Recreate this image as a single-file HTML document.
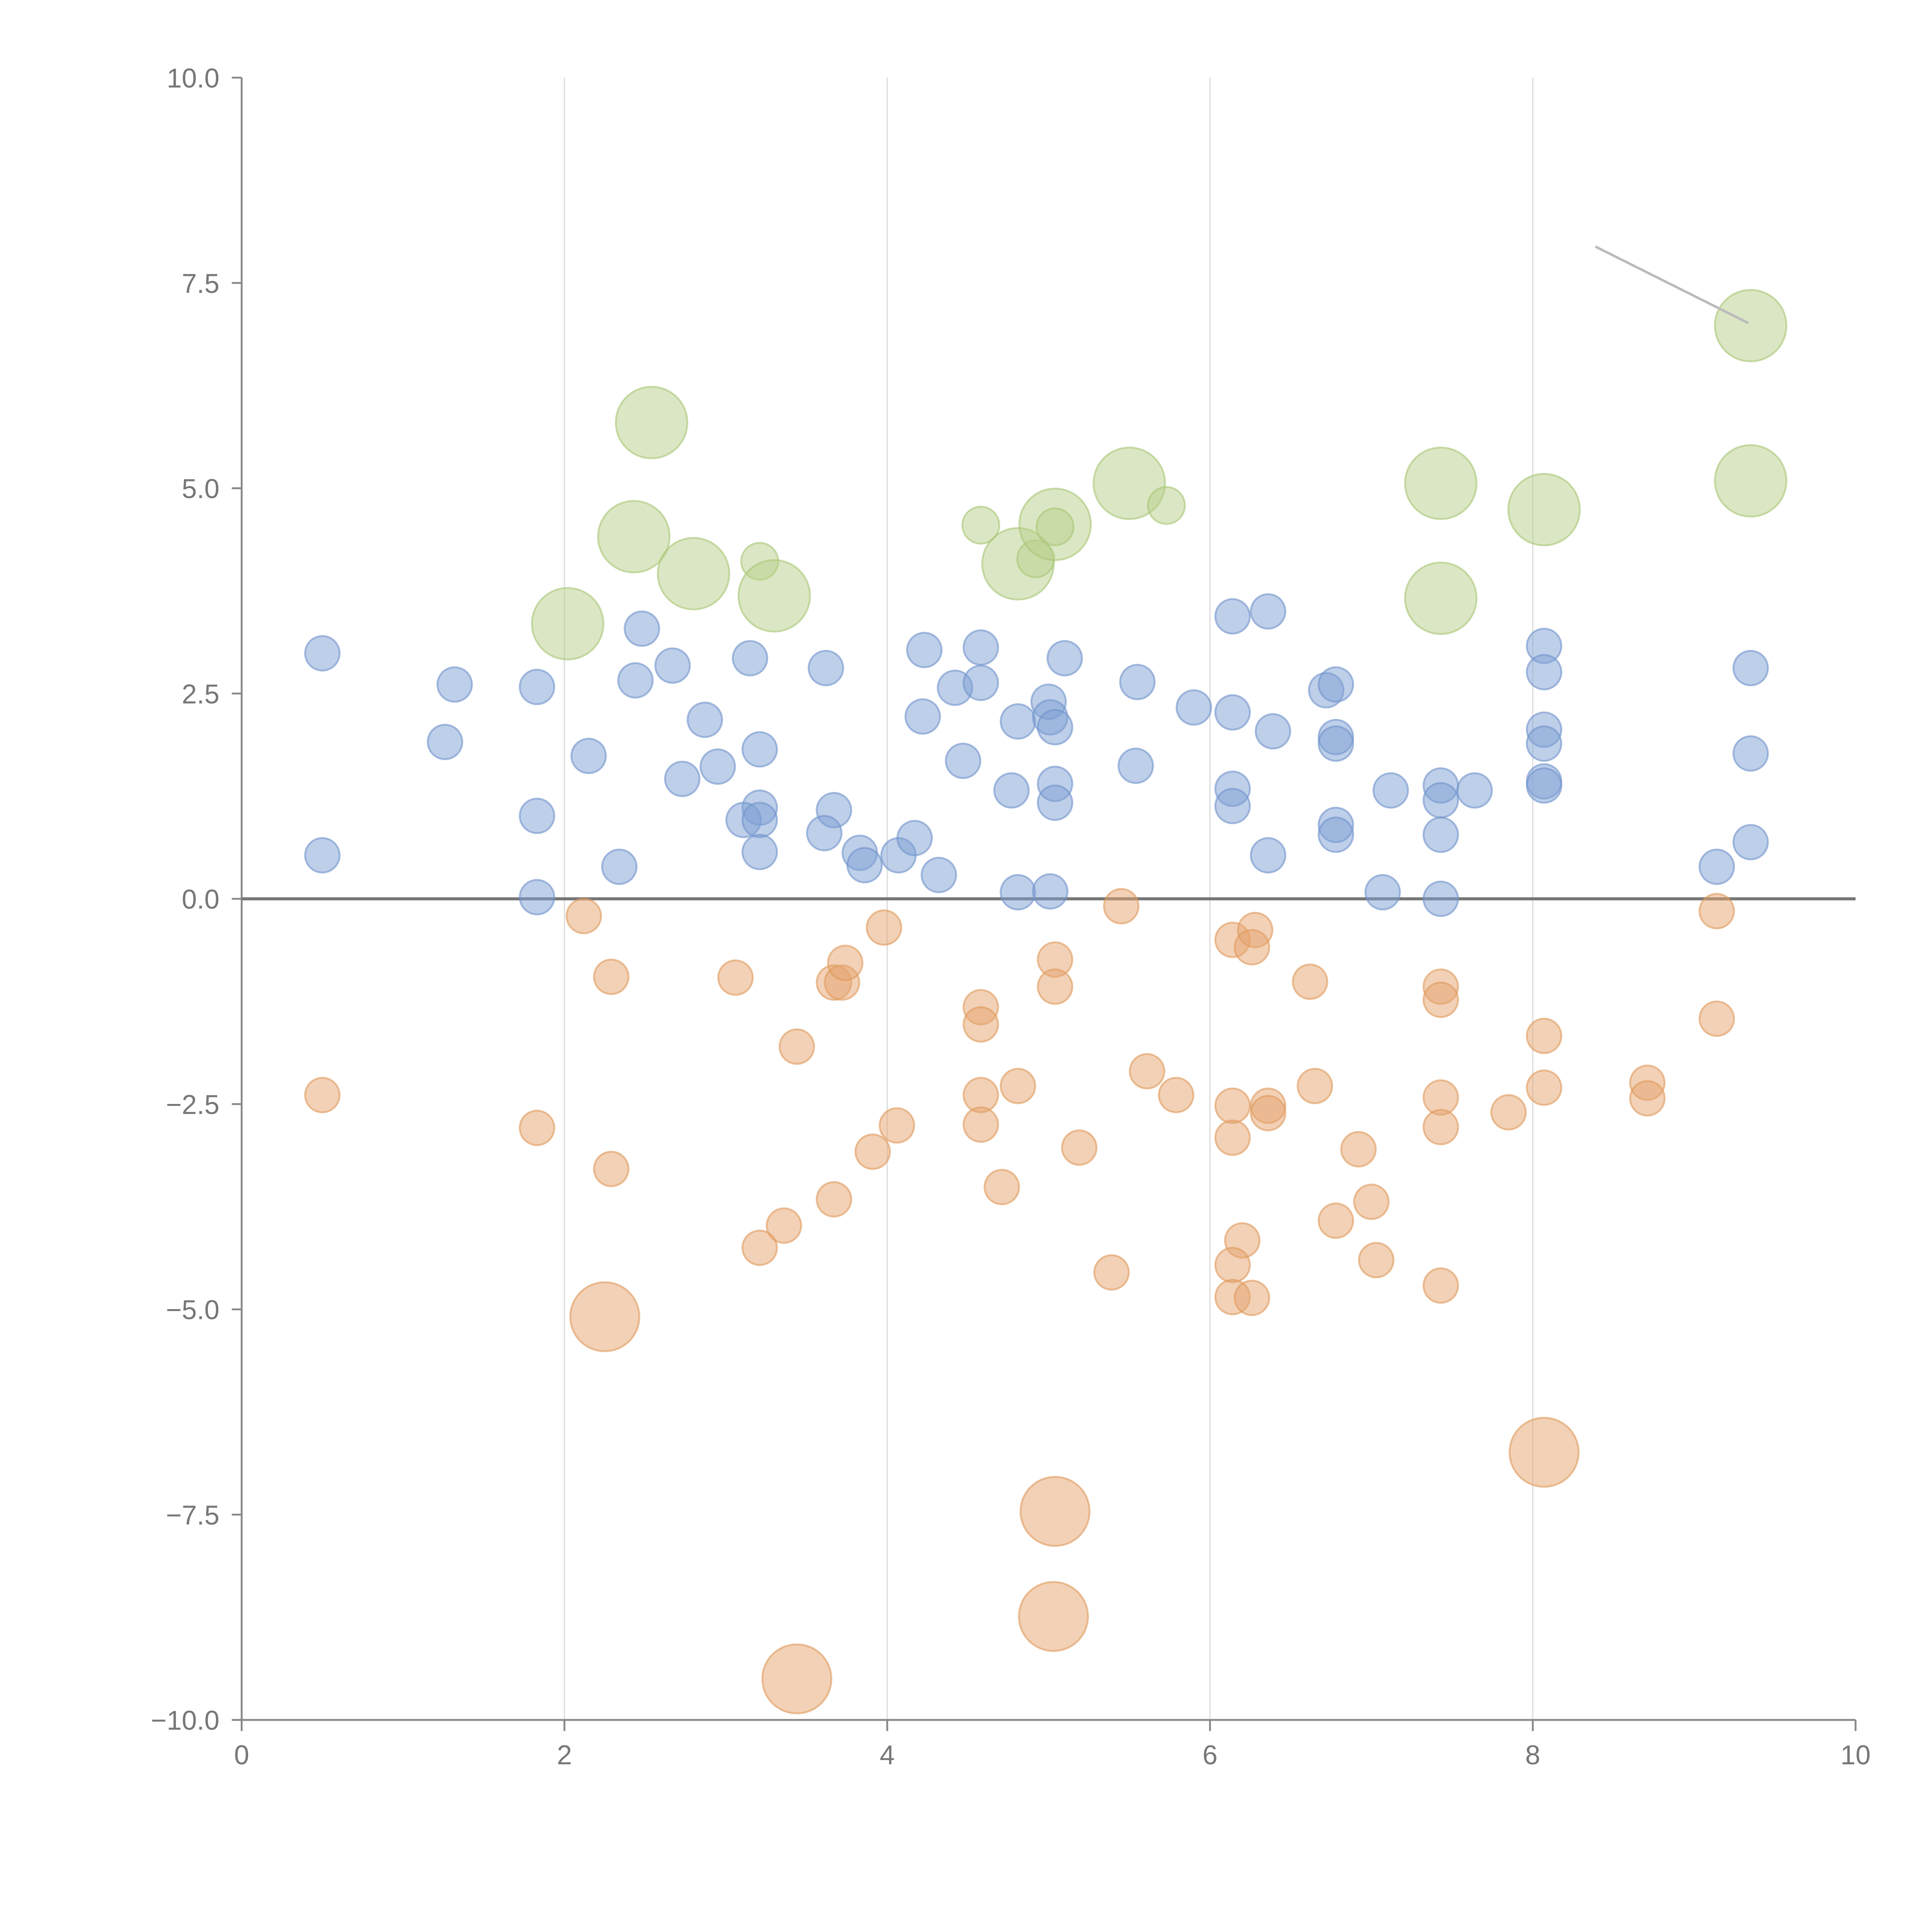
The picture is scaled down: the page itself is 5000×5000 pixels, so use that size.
<!DOCTYPE html>
<html><head><meta charset="utf-8"><style>
html,body{margin:0;padding:0;background:#fff}
svg{display:block}
text{font-family:"Liberation Sans",sans-serif;fill:#777}
</style></head><body>
<svg id="chart" width="5000" height="5000" viewBox="0 0 1567 1567" xmlns="http://www.w3.org/2000/svg">
<g id="grid"></g>
<g id="axes"></g>
<g id="marks"></g>
<line x1="1294" y1="200" x2="1418" y2="262" stroke="#bbb" stroke-width="2"/>
</svg>
<script>
const xTicks=[0,2,4,6,8,10];
const yTicks=[-10,-7.5,-5,-2.5,0,2.5,5,7.5,10];
const xTickLabels=["0","2","4","6","8","10"];
const yTickLabels=["\u221210.0","\u22127.5","\u22125.0","\u22122.5","0.0","2.5","5.0","7.5","10.0"];
const blueX=[.50,1.32,1.26,1.83,1.83,.50,1.83,2.15,2.34,2.44,2.48,2.67,2.73,2.87,2.95,3.15,3.21,3.21,3.11,3.21,3.21,3.62,3.67,3.61,3.83,3.86,4.07,4.17,4.23,4.22,4.32,4.42,4.47,4.58,4.58,4.77,4.81,4.81,5.00,5.01,5.04,5.04,5.04,5.01,5.10,5.55,5.54,5.90,6.14,6.14,6.14,6.14,6.36,6.39,6.36,6.72,6.78,6.78,6.78,6.78,6.78,7.07,7.12,7.43,7.43,7.43,7.43,7.64,8.07,8.07,8.07,8.07,8.07,8.07,9.14,9.35,9.35,9.35];
const blueY=[2.99,2.61,1.91,2.58,1.01,.53,.02,1.74,.39,2.66,3.29,2.84,1.46,2.18,1.61,2.93,1.82,1.11,.96,.96,.57,2.81,1.08,.80,.56,.41,.53,.74,3.03,2.22,.29,2.57,1.68,3.06,2.63,1.32,2.16,.08,2.40,2.21,2.09,1.40,1.17,.09,2.93,2.64,1.62,2.33,3.44,2.27,1.34,1.13,3.50,2.04,.53,2.54,2.61,1.97,1.89,.90,.78,.08,1.32,1.38,1.20,.78,0,1.32,3.08,2.76,2.06,1.89,1.43,1.38,.39,2.81,1.77,.69];
const orangeX=[.50,1.83,2.12,2.29,2.29,2.25,3.06,3.21,3.36,3.44,3.44,3.67,3.72,3.74,3.67,3.91,3.98,4.06,4.58,4.58,4.58,4.58,4.71,4.81,5.04,5.04,5.04,5.03,5.19,5.39,5.45,5.61,5.79,6.14,6.28,6.26,6.14,6.14,6.20,6.14,6.14,6.26,6.36,6.36,6.62,6.65,6.78,6.92,7.00,7.03,7.43,7.43,7.43,7.43,7.43,7.85,8.07,8.07,8.07,8.71,8.71,9.14,9.14];
const orangeY=[-2.39,-2.79,-.21,-.95,-3.29,-5.09,-.96,-4.25,-3.98,-1.80,-9.50,-1.02,-1.02,-.78,-3.66,-3.08,-.35,-2.76,-1.32,-1.53,-2.39,-2.75,-3.51,-2.28,-.74,-1.07,-7.46,-8.74,-3.03,-4.55,-.09,-2.10,-2.39,-.50,-.38,-.59,-2.52,-2.91,-4.16,-4.46,-4.85,-4.86,-2.52,-2.61,-1.01,-2.28,-3.92,-3.05,-3.69,-4.40,-1.07,-1.23,-2.42,-2.78,-4.71,-2.60,-1.67,-2.30,-6.74,-2.24,-2.43,-.15,-1.46];
const orangeBig=[5,10,26,27,58];
const greenX=[2.02,2.54,2.43,2.80,3.21,3.30,4.58,4.81,4.92,5.04,5.04,5.50,5.73,7.43,7.43,8.07,9.35,9.35];
const greenY=[3.35,5.80,4.41,3.96,4.11,3.69,4.55,4.08,4.14,4.56,4.53,5.06,4.79,5.06,3.66,4.74,6.98,5.09];
const greenSize=[2,2,2,2,1,2,1,2,1,2,1,2,1,2,2,2,2,2];

const X0=196,X1=1505,Y0=1395,Y1=63;
const sx=v=>X0+(v-0)/10*(X1-X0);
const sy=v=>Y0-(v+10)/20*(Y0-Y1);
const NS="http://www.w3.org/2000/svg";
function mk(tag,attrs,parent){const e=document.createElementNS(NS,tag);for(const k in attrs)e.setAttribute(k,attrs[k]);parent.appendChild(e);return e;}
const grid=document.getElementById('grid'),axes=document.getElementById('axes'),marks=document.getElementById('marks');
xTicks.forEach((t,i)=>{
  if(t>0&&t<10){const g=mk('line',{x1:sx(t),x2:sx(t),y1:Y1,y2:Y0,stroke:'#ddd','stroke-width':1},grid);
  
  }
  const tk=mk('line',{x1:sx(t),x2:sx(t),y1:Y0,y2:Y0+9,stroke:'#888','stroke-width':1.5},axes);
  
  
  const tx=mk('text',{x:sx(t),y:Y0+36,'text-anchor':'middle','font-size':22},axes);
  tx.textContent=xTickLabels[i];
  
  
});
yTicks.forEach((t,i)=>{
  const tk=mk('line',{x1:X0-8,x2:X0,y1:sy(t),y2:sy(t),stroke:'#888','stroke-width':1.5},axes);
  
  
  const tx=mk('text',{x:X0-18,y:sy(t)+8,'text-anchor':'end','font-size':22},axes);
  tx.textContent=yTickLabels[i];
  
  
});
const ya=mk('line',{x1:X0,x2:X0,y1:Y1,y2:Y0,stroke:'#888','stroke-width':1.5},axes);


const xa=mk('line',{x1:X0,x2:X1,y1:Y0,y2:Y0,stroke:'#888','stroke-width':1.5},axes);


function bubble(x,y,r,fill,stroke,name){
  const c=mk('circle',{cx:sx(x),cy:sy(y),r:r,fill:fill,'fill-opacity':0.5,stroke:stroke,'stroke-opacity':0.6,'stroke-width':1.5},marks);
  
  
}
orangeX.forEach((x,i)=>bubble(x,orangeY[i],orangeBig.includes(i)?28:14,'#e6a46d','#e09a5c','orange-bubble'));
blueX.forEach((x,i)=>bubble(x,blueY[i],14,'#7e9fd4','#6f92cc','blue-bubble'));
greenX.forEach((x,i)=>bubble(x,greenY[i],greenSize[i]==2?29:15,'#b7d08a','#a9c677','green-bubble'));
const zl=mk('line',{x1:X0,x2:X1,y1:sy(0),y2:sy(0),stroke:'#777','stroke-width':2.5},axes);


</script>
</body></html>
